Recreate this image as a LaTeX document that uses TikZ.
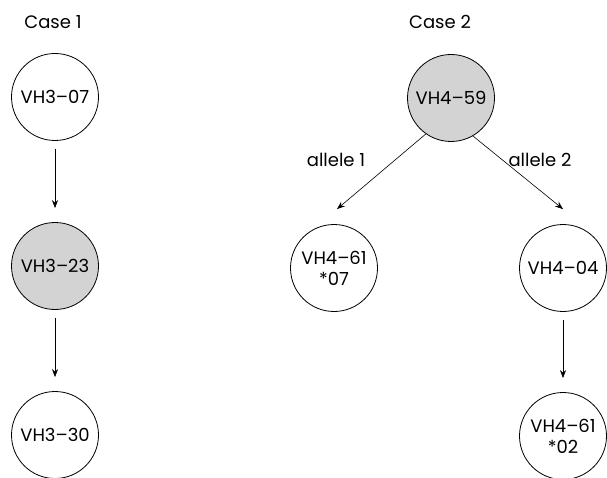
\documentclass[tikz,border=0pt]{standalone}
\usepackage{fontspec}
\setmainfont{Poppins}
\usetikzlibrary{arrows.meta}
\definecolor{nodegray}{HTML}{D3D3D3}
\begin{document}
\begin{tikzpicture}[x=1pt,y=-1pt,
  gene/.style={circle,draw=black,line width=0.8pt,minimum size=87pt,inner sep=0pt,align=center,font=\fontsize{18}{22}\selectfont},
  shaded/.style={gene,fill=nodegray},
  lbl/.style={font=\fontsize{18}{22}\selectfont,inner sep=0pt},
  arr/.style={draw=black,line width=0.6pt,-{Stealth[length=8pt,width=6pt]}}]
\useasboundingbox (0,0) rectangle (607,478);
\node[lbl] (c1) at (53,22) {Case 1};
\node[lbl] (c2) at (440,22) {Case 2};
\node[gene] (a) at (55,97) {VH3–07};
\node[shaded] (b) at (55,266) {VH3–23};
\node[gene] (c) at (55,435) {VH3–30};
\node[shaded] (d) at (451,98) {VH4–59};
\node[gene] (e) at (334,268) {VH4–61\\[-1pt]*07};
\node[gene] (f) at (563,268) {VH4–04};
\node[gene] (g) at (563,436) {VH4–61\\[-1pt]*02};
\node[lbl] (l1) at (336,160) {allele 1};
\node[lbl] (l2) at (540,160) {allele 2};
\draw[arr,shorten <=8pt,shorten >=14pt] (a) -- (b);
\draw[arr,shorten <=8pt,shorten >=14pt] (b) -- (c);
\draw[arr,shorten <=8pt,shorten >=14pt] (f) -- (g);
\draw[arr] (d.235) -- ([xshift=3pt,yshift=15pt]e.north);
\draw[arr] (d.300) -- ([yshift=15pt]f.north);
\end{tikzpicture}
\end{document}
